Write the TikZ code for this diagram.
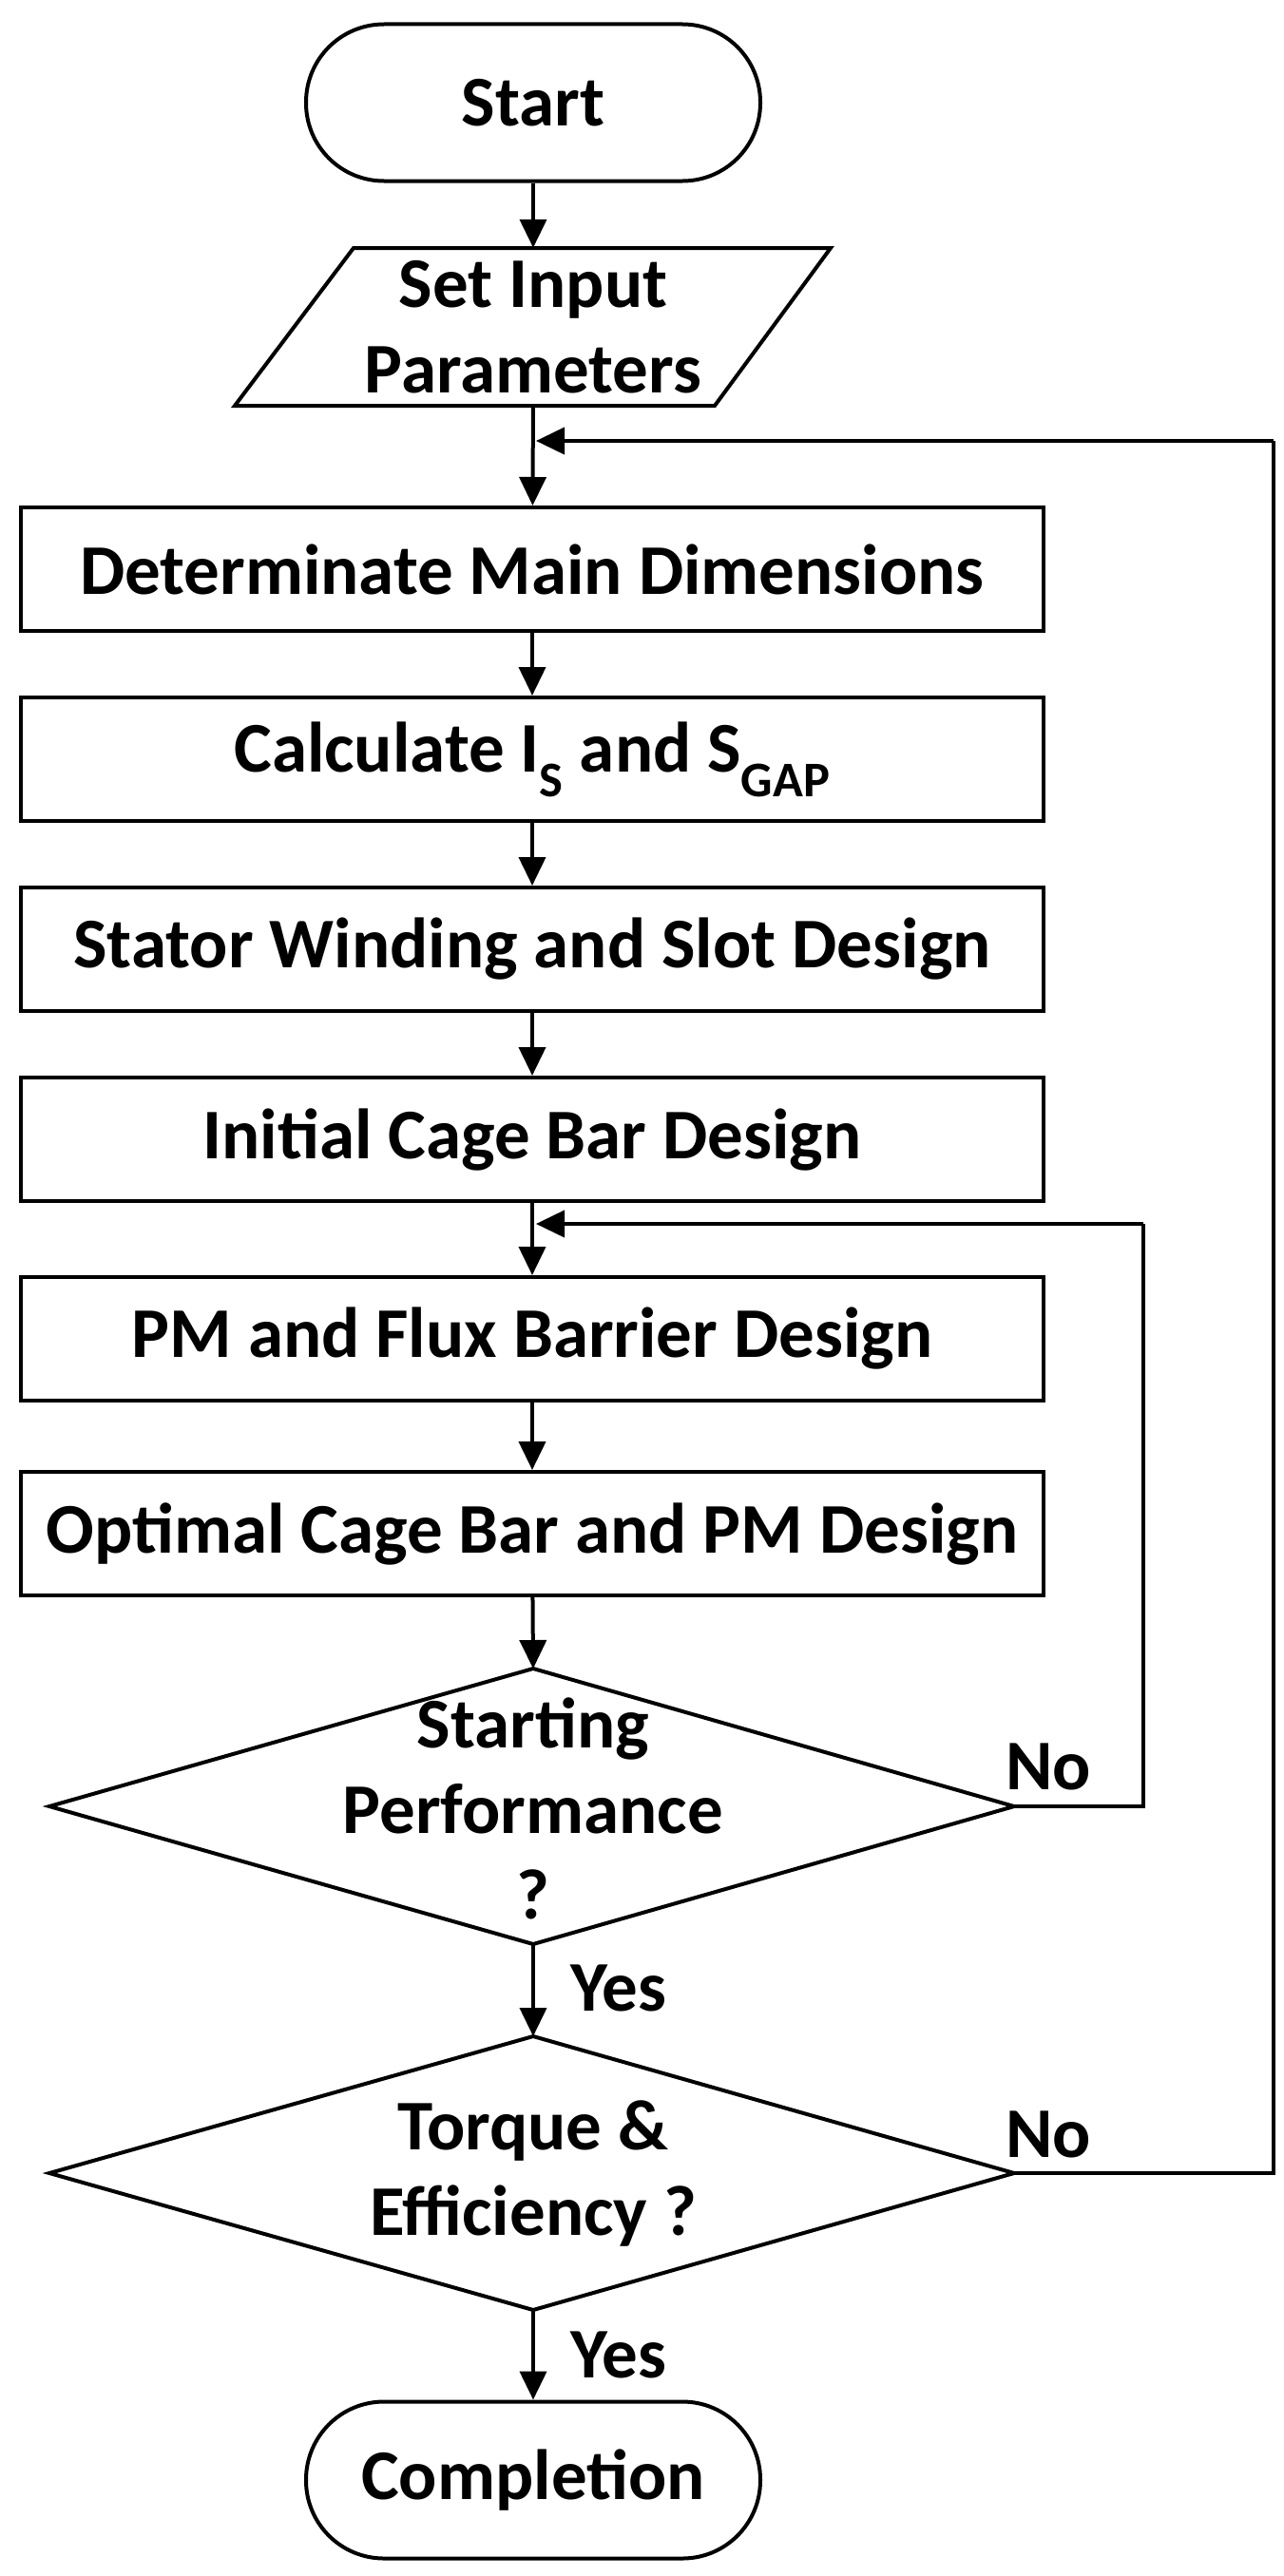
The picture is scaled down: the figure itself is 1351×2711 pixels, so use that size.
\documentclass[tikz,border=0pt]{standalone}
\usepackage{fontspec}
\setmainfont{Carlito}
\usetikzlibrary{arrows.meta}
\begin{document}
\begin{tikzpicture}[x=1pt,y=-1pt,
  lw/.style={line width=4pt},
  box/.style={lw,draw,minimum width=1076pt,minimum height=130pt,inner sep=0pt},
  term/.style={lw,draw,rounded corners=82pt,minimum width=478pt,minimum height=165pt},
  txt/.style={font=\fontsize{75}{90}\selectfont\bfseries,align=center},
  arr/.style={lw,-{Triangle[length=30pt,width=28pt]}},
  ln/.style={lw}]
\useasboundingbox (0,0) rectangle (1351,2711);
\node[term,txt] (start) at (561,108) {Start};
\node[txt,minimum width=505pt,minimum height=166pt,inner sep=0pt] (para) at (561,344) {Set Input\\Parameters};
\draw[lw] (372,261) -- (874,261) -- (752,427) -- (247,427) -- cycle;
\node[box,txt] (r1) at (560,599) {Determinate Main Dimensions};
\node[box,txt] (r2) at (560,799) {Calculate I\textsubscript{S} and S\textsubscript{GAP}};
\node[box,txt] (r3) at (560,999) {Stator Winding and Slot Design};
\node[box,txt] (r4) at (560,1199) {Initial Cage Bar Design};
\node[box,txt] (r5) at (560,1409) {PM and Flux Barrier Design};
\node[box,txt] (r6) at (560,1614) {Optimal Cage Bar and PM Design};
% diamond 1
\coordinate (d1t) at (561,1756); \coordinate (d1b) at (561,2046);
\coordinate (d1l) at (52,1901); \coordinate (d1r) at (1067,1901);
\draw[lw] (d1t) -- (d1r) -- (d1b) -- (d1l) -- cycle;
\node[txt] (d1) at (561,1903) {Starting\\Performance\\?};
% diamond 2
\coordinate (d2t) at (561,2143); \coordinate (d2b) at (561,2431);
\coordinate (d2l) at (52,2287); \coordinate (d2r) at (1067,2287);
\draw[lw] (d2t) -- (d2r) -- (d2b) -- (d2l) -- cycle;
\node[txt] (d2) at (561,2287) {Torque \&\\Efficiency ?};
\node[term,txt] (end) at (561,2610) {Completion};
% arrows
\draw[arr] (start) -- (para.north);
\draw[arr] (para.south) -- (r1);
\draw[arr] (r1) -- (r2);
\draw[arr] (r2) -- (r3);
\draw[arr] (r3) -- (r4);
\draw[arr] (r4) -- (r5);
\draw[arr] (r5) -- (r6);
\draw[arr] (r6) -- (d1t);
\draw[arr] (d1b) -- (d2t);
\draw[arr] (d2b) -- (end);
\coordinate (j1) at (564,1288); \coordinate (j2) at (564,464);
\draw[ln] (d1r) -- (1203,1901) -- (1203,1288);
\draw[arr] (1203,1288) -- (j1);
\draw[ln] (d2r) -- (1340,2287) -- (1340,464);
\draw[arr] (1340,464) -- (j2);
\node[txt,anchor=south west] (no1) at (1055,1888) {No};
\node[txt,anchor=south west] (no2) at (1055,2275) {No};
\node[txt,anchor=west] (y1) at (597,2092) {Yes};
\node[txt,anchor=west] (y2) at (597,2478) {Yes};
\end{tikzpicture}
\end{document}
